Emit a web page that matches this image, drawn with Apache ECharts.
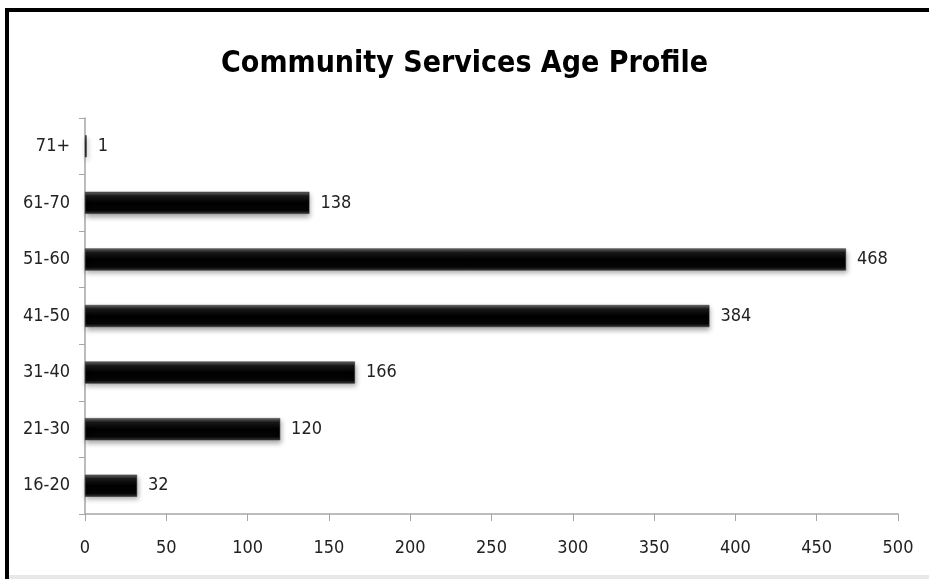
<!DOCTYPE html>
<html><head><meta charset="utf-8">
<script src="https://cdn.jsdelivr.net/npm/echarts@6/dist/echarts.min.js"></script>
<style>html,body{margin:0;padding:0;background:#fff}#c{width:929px;height:579px}</style>
</head><body><div id="c"></div>
<script>
const titleText = 'Community Services Age Profile';
const categories = ['16-20','21-30','31-40','41-50','51-60','61-70','71+'];
const values = [32,120,166,384,468,138,1];
const xTicks = [0,50,100,150,200,250,300,350,400,450,500];

const FONT = '"DejaVu Sans Condensed", "Liberation Sans Narrow", sans-serif';
const chart = echarts.init(document.getElementById('c'));
chart.setOption({
  backgroundColor: '#fff',
  animation: false,
  title: {
    text: titleText, left: 'center', top: 44,
    textStyle: {fontFamily: FONT, fontSize: 30, fontWeight: 'bold', color: '#000'}
  },
  graphic: [
    {type:'rect', shape:{x:5,y:8,width:930,height:4}, style:{fill:'#000'}, silent:true},
    {type:'rect', shape:{x:5,y:8,width:4,height:580}, style:{fill:'#000'}, silent:true},
    {type:'rect', shape:{x:9,y:575,width:930,height:4}, style:{fill:'#e8e8e8'}, silent:true}
  ],
  grid: {left: 85, right: 31, top: 118, bottom: 65, containLabel: false},
  xAxis: {
    type: 'value', min: 0, max: 500, interval: 50,
    axisLine: {show: true, lineStyle: {color: '#a6a6a6', width: 1.5}},
    axisTick: {show: true, length: 7, lineStyle: {color: '#a6a6a6'}},
    splitLine: {show: false},
    axisLabel: {fontFamily: FONT, fontSize: 18, color: '#222', margin: 25,
      formatter: v => xTicks.includes(v) ? String(v) : ''}
  },
  yAxis: {
    type: 'category', data: categories,
    axisLine: {show: true, lineStyle: {color: '#a6a6a6', width: 1.5}},
    axisTick: {show: true, length: 6, lineStyle: {color: '#a6a6a6'}},
    axisLabel: {fontFamily: FONT, fontSize: 18, color: '#222', margin: 15}
  },
  series: [{
    type: 'bar', data: values, barWidth: 22,
    itemStyle: {
      color: new echarts.graphic.LinearGradient(0,0,0,1,[
        {offset:0, color:'#6a6a6a'},
        {offset:0.18, color:'#1a1a1a'},
        {offset:0.5, color:'#000'},
        {offset:0.85, color:'#050505'},
        {offset:1, color:'#3a3a3a'}
      ]),
      borderColor: '#222', borderWidth: 0.5,
      shadowColor: 'rgba(0,0,0,0.35)', shadowBlur: 5, shadowOffsetY: 3, shadowOffsetX: 1
    },
    label: {show: true, position: 'right', distance: 11, fontFamily: FONT, fontSize: 18, color: '#222'}
  }]
});
</script></body></html>
